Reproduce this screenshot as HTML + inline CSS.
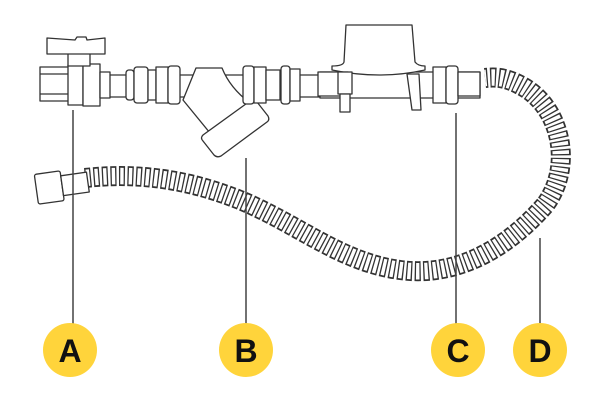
<!DOCTYPE html>
<html><head><style>body{margin:0;background:#fff}svg{display:block}</style></head><body>
<svg width="600" height="416" viewBox="0 0 600 416" xmlns="http://www.w3.org/2000/svg">
<g fill="#fff" stroke="#333" stroke-width="1.3" stroke-linejoin="round">
<!-- hose -->
<path d="M85,178 C140,172 190,180 240,200 C300,225 340,262 400,270 C460,278 510,245 545,205 C575,165 560,105 520,85 C505,77 495,77 485,78" fill="none" stroke="#333" stroke-width="20" stroke-dasharray="6 2.5"/>
<path d="M85,178 C140,172 190,180 240,200 C300,225 340,262 400,270 C460,278 510,245 545,205 C575,165 560,105 520,85 C505,77 495,77 485,78" fill="none" stroke="#fff" stroke-width="16.5" stroke-dasharray="3.4 5.1" stroke-dashoffset="-1.3"/>
<!-- left hose fitting -->
<g transform="rotate(-8 60 185)">
<rect x="36" y="171" width="26" height="30" rx="2"/>
<rect x="62" y="176" width="26" height="20"/>
</g>
<!-- top pipe -->
<rect x="95" y="75" width="235" height="22"/>
<rect x="320" y="72" width="160" height="26"/>
<!-- valve -->
<rect x="40" y="67" width="30" height="34"/>
<line x1="40" y1="74" x2="70" y2="74"/><line x1="40" y1="94" x2="70" y2="94"/>
<rect x="68" y="65" width="15" height="40"/>
<rect x="83" y="64" width="17" height="42"/>
<rect x="100" y="72" width="10" height="26"/>
<rect x="68" y="52" width="22" height="14"/>
<path d="M47,38 L75,40 L77,37 L86,37 L87,40 L105,38 L105,54 L47,54 Z"/>
<!-- fittings -->
<rect x="126" y="70" width="8" height="30" rx="3"/>
<rect x="134" y="67" width="14" height="36" rx="3"/>
<rect x="148" y="70" width="8" height="30"/>
<rect x="156" y="67" width="12" height="36"/>
<rect x="168" y="66" width="12" height="38" rx="3"/>
<!-- strainer -->
<path d="M196,68 L222,68 Q230,88 250,103 L210,133 L183,100 Z"/>
<path d="M203,135 L250,101 Q254,99 257,102 L268,116 Q270,120 267,122 L221,156 Q217,158 214,155 L203,141 Q200,138 203,135 Z"/>
<rect x="243" y="66" width="11" height="38" rx="3"/>
<rect x="254" y="67" width="12" height="36"/>
<rect x="266" y="70" width="14" height="30"/>
<rect x="281" y="66" width="9" height="38" rx="3"/>
<rect x="290" y="69" width="10" height="32"/>
<!-- regulator -->
<path d="M346,25 L412,25 L415,62 Q418,66 425,66 L425,70 Q380,80 332,70 L332,66 Q343,66 344,62 Z"/>
<rect x="318" y="72" width="30" height="24"/>
<rect x="338" y="72" width="14" height="22"/>
<rect x="340" y="94" width="10" height="18"/>
<path d="M407,74 L419,74 L421,110 L412,110 Z"/>
<rect x="433" y="67" width="13" height="36"/>
<rect x="446" y="66" width="12" height="38" rx="3"/>
<rect x="458" y="72" width="22" height="24"/>
</g>
<g stroke="#444" stroke-width="1.5">
<line x1="73" y1="110" x2="73" y2="325"/>
<line x1="246" y1="158" x2="246" y2="325"/>
<line x1="456" y1="113" x2="456" y2="325"/>
<line x1="540" y1="238" x2="540" y2="325"/>
</g>
<g fill="#FFD43B">
<circle cx="70" cy="350" r="27"/><circle cx="246" cy="350" r="27"/>
<circle cx="458" cy="350" r="27"/><circle cx="540" cy="350" r="27"/>
</g>
<g font-family="Liberation Sans, sans-serif" font-weight="bold" font-size="32" text-anchor="middle" fill="#111">
<text x="70" y="362">A</text><text x="246" y="362">B</text><text x="458" y="362">C</text><text x="540" y="362">D</text>
</g>
</svg>
</body></html>
